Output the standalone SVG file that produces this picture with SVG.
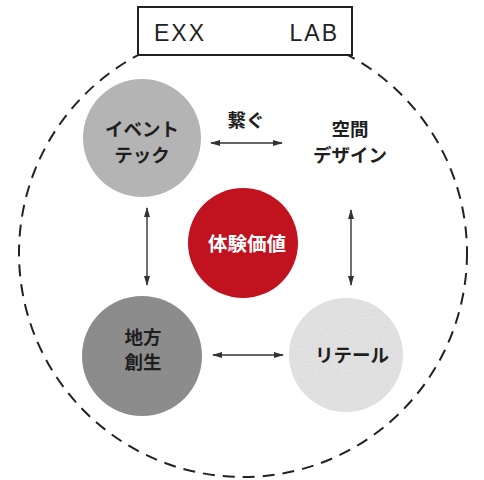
<svg xmlns="http://www.w3.org/2000/svg" width="484" height="480" viewBox="0 0 484 480">
<defs>
<style>
.lbl{font-family:"Noto Sans CJK JP","Noto Sans",sans-serif;font-weight:700;font-size:18.5px;fill:#1e1e1e;text-anchor:middle}
.conn line{stroke:#333;stroke-width:1.4;marker-start:url(#ah);marker-end:url(#ah)}
</style>
<marker id="ah" viewBox="0 0 10 6" refX="9" refY="3" markerWidth="10" markerHeight="6" markerUnits="userSpaceOnUse" orient="auto-start-reverse">
<path d="M0,0 L10,3 L0,6 Z" fill="#333"/>
</marker>
<filter id="noise" x="0" y="0" width="100%" height="100%">
<feTurbulence type="fractalNoise" baseFrequency="0.9" numOctaves="2" seed="3"/>
<feColorMatrix type="matrix" values="0 0 0 0 0.5  0 0 0 0 0.5  0 0 0 0 0.5  0 0 0 0.35 0"/>
<feComposite in2="SourceGraphic" operator="in"/>
<feBlend in2="SourceGraphic" mode="multiply"/>
</filter>
</defs>
<rect width="484" height="480" fill="#fff"/>
<g id="frame">
<circle cx="243" cy="253" r="224" fill="none" stroke="#222" stroke-width="2" stroke-dasharray="12 8"/>
<rect x="138" y="7" width="214" height="48" fill="#fff" stroke="#222" stroke-width="2"/>
<text x="154" y="41" font-family="'Liberation Sans',sans-serif" font-size="23" fill="#222" letter-spacing="2">EXX</text>
<text x="339" y="41" font-family="'Liberation Sans',sans-serif" font-size="23" fill="#222" letter-spacing="2" text-anchor="end">LAB</text>
</g>
<g class="conn" id="connectors">
<line x1="211" y1="143" x2="282" y2="143"/>
<line x1="147" y1="208" x2="147" y2="285"/>
<line x1="351" y1="210" x2="351" y2="285"/>
<line x1="213" y1="355" x2="283" y2="355"/>
<text class="lbl" x="246" y="127">繋ぐ</text>
</g>
<g id="event-tech">
<circle cx="142" cy="138" r="59" fill="#b4b4b4"/>
<text class="lbl" x="142" y="136">イベント</text>
<text class="lbl" x="142" y="162">テック</text>
</g>
<g id="space-design">
<text class="lbl" x="350" y="136">空間</text>
<text class="lbl" x="350" y="162">デザイン</text>
</g>
<g id="experience-value">
<circle cx="243" cy="243" r="55" fill="#c0121f"/>
<text class="lbl" x="247" y="251" style="fill:#fff;font-size:19.5px">体験価値</text>
</g>
<g id="regional">
<circle cx="142" cy="356" r="60" fill="#8c8c8c"/>
<text class="lbl" x="143" y="344">地方</text>
<text class="lbl" x="143" y="369">創生</text>
</g>
<g id="retail">
<circle cx="346" cy="355" r="57" fill="#e9e9e9" filter="url(#noise)"/>
<text class="lbl" x="352" y="362">リテール</text>
</g>
</svg>
